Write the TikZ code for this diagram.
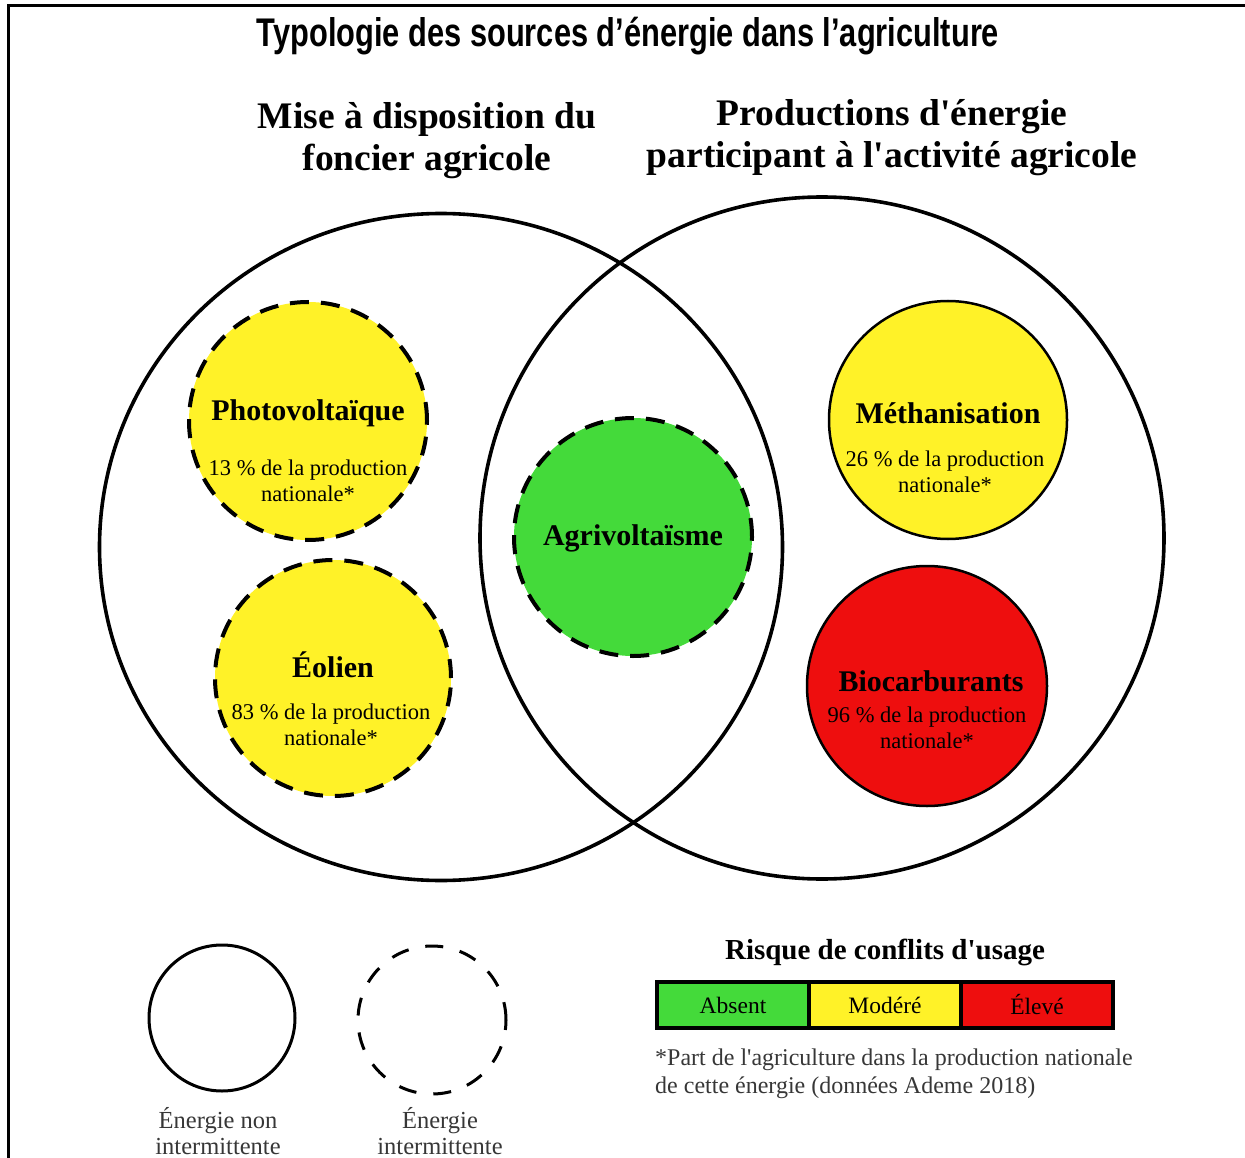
\documentclass[tikz,border=0pt]{standalone}
\usepackage{fontspec}
\setmainfont{Liberation Serif}
\newfontfamily\srf{Liberation Serif}
\newfontfamily\titlefont{Liberation Sans}
\usepackage{graphicx}
\usetikzlibrary{calc,shapes.geometric}
\definecolor{cyel}{RGB}{255,242,40}
\definecolor{cgreen}{RGB}{68,218,58}
\definecolor{cred}{RGB}{238,14,14}
\definecolor{cgrey}{RGB}{55,55,55}
\begin{document}
\begin{tikzpicture}[x=1pt,y=-1pt,
  bigset/.style={draw, ellipse, line width=3.6pt, inner sep=0pt},
  dcirc/.style={circle, draw, line width=4pt, dash pattern=on 19pt off 12pt, inner sep=0pt, minimum size=#1},
  scirc/.style={circle, draw, line width=2.5pt, inner sep=0pt, minimum size=#1},
  head/.style={font=\srf\fontsize{30}{34}\selectfont\bfseries, inner sep=0pt},
  subtxt/.style={font=\srf\fontsize{22.5}{26}\selectfont, align=center, inner sep=0pt},
  settitle/.style={font=\srf\fontsize{37.5}{42}\selectfont\bfseries, align=center, inner sep=0pt},
  legtxt/.style={font=\srf\fontsize{24.5}{26}\selectfont, align=center, text=cgrey, inner sep=0pt},
  cell/.style={draw, line width=4pt, minimum width=152pt, minimum height=46pt, inner sep=0pt, outer sep=0pt, font=\srf\fontsize{23.5}{25}\selectfont},
]
\useasboundingbox (0,0) rectangle (1245,1158);
\draw[line width=3pt] (8,1158) -- (8,6) -- (1245,6);

\node[inner sep=0pt, font=\titlefont\bfseries\fontsize{40}{42}\selectfont] (title) at (628,36) {\scalebox{0.77}[1]{Typologie des sources d’énergie dans l’agriculture}};

\node[settitle] (hl) at (427,141) {Mise à disposition du\\foncier agricole};
\node[settitle] (hr) at (892,138) {Productions d'énergie\\participant à l'activité agricole};

\node[bigset, minimum width=683pt, minimum height=667pt] (setL) at (441,547) {};
\node[bigset, minimum width=684pt, minimum height=682pt] (setR) at (822,538) {};

% Photovoltaique
\node[dcirc=238pt, fill=cyel] (pv) at (308,421) {};
\node[head] (pvh) at ($(pv.center)+(0,-8)$) {Photovoltaïque};
\node[subtxt] (pvs) at ($(pv.center)+(0,60)$) {13 \% de la production\\nationale*};

% Eolien
\node[dcirc=236pt, fill=cyel] (eo) at (333,678) {};
\node[head] (eoh) at ($(eo.center)+(0,-13)$) {Éolien};
\node[subtxt] (eos) at ($(eo.center)+(-2,47)$) {83 \% de la production\\nationale*};

% Agrivoltaisme
\node[dcirc=238pt, fill=cgreen] (ag) at (633,537) {};
\node[head] (agh) at ($(ag.center)+(0,1)$) {Agrivoltaïsme};

% Methanisation
\node[scirc=238pt, fill=cyel] (me) at (948,420) {};
\node[head] (meh) at ($(me.center)+(0,-7)$) {Méthanisation};
\node[subtxt] (mes) at ($(me.center)+(-3,52)$) {26 \% de la production\\nationale*};

% Biocarburants
\node[scirc=240pt, fill=cred] (bio) at (927,686) {};
\node[head] (bioh) at ($(bio.center)+(4,-5)$) {Biocarburants};
\node[subtxt] (bios) at ($(bio.center)+(0,42)$) {96 \% de la production\\nationale*};

% Legend circles
\node[scirc=146pt, line width=3pt] (lsolid) at (222,1018) {};
\node[legtxt] (lsolidt) at (218,1131) {Énergie non\\intermittente};
\node[circle, draw, line width=3pt, dash pattern=on 18pt off 17pt, inner sep=0pt, minimum size=148pt] (ldash) at (432,1020) {};
\node[legtxt] (ldasht) at (440,1131) {Énergie\\intermittente};

% Risk bar
\node[font=\srf\fontsize{29}{32}\selectfont\bfseries, inner sep=0pt] (risk) at (885,952) {Risque de conflits d'usage};
\node[cell, fill=cgreen] (c1) at (733,1005) {Absent};
\node[cell, fill=cyel, anchor=west] (c2) at (c1.east) {Modéré};
\node[cell, fill=cred, anchor=west] (c3) at (c2.east) {Élevé};

\node[legtxt, align=left, anchor=north west, font=\srf\fontsize{24}{28}\selectfont] (note) at (655,1049) {*Part de l'agriculture dans la production nationale\\de cette énergie (données Ademe 2018)};
\end{tikzpicture}
\end{document}
